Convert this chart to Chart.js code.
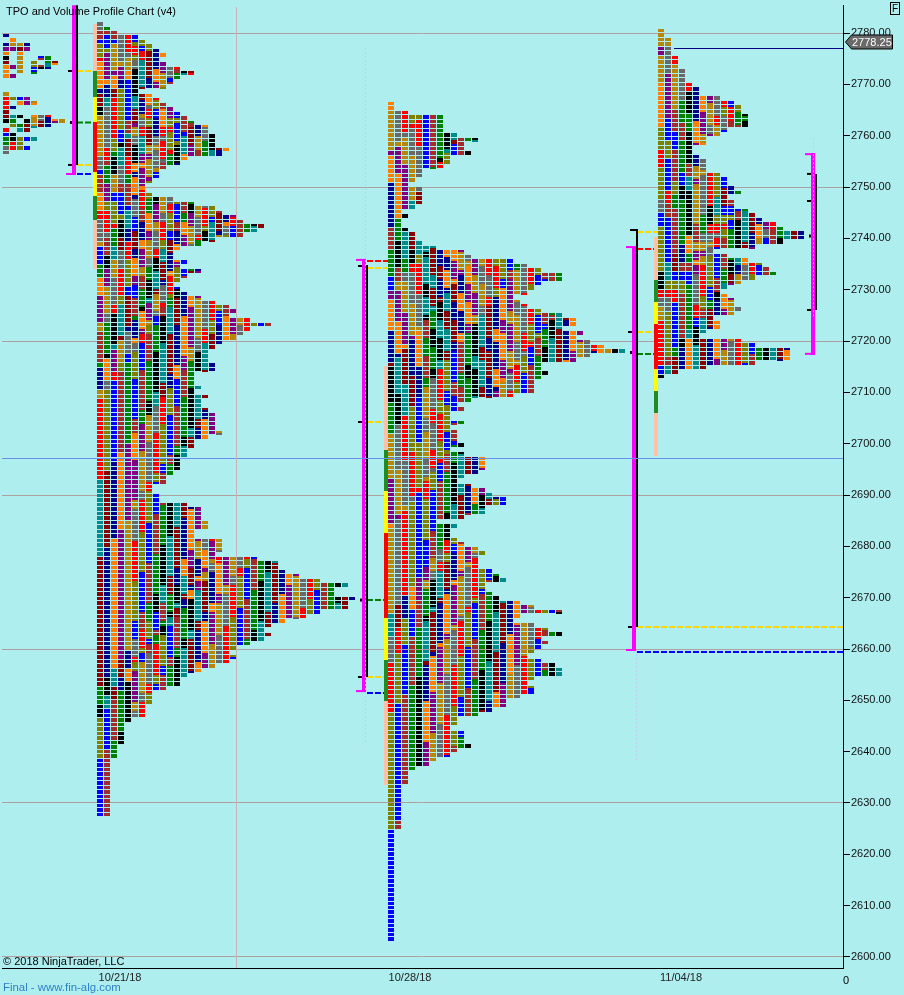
<!DOCTYPE html>
<html>
<head>
<meta charset="utf-8">
<title>TPO and Volume Profile Chart</title>
<script src="https://cdn.jsdelivr.net/npm/chart.js@4"></script>
<style>
  html, body { margin: 0; padding: 0; background: #afeeee; }
  canvas { display: block; }
</style>
</head>
<body>
<canvas id="chart" width="904" height="995"></canvas>
<script>
const priceTicks = [2600, 2610, 2620, 2630, 2640, 2650, 2660, 2670, 2680, 2690, 2700, 2710, 2720, 2730, 2740, 2750, 2760, 2770, 2780];
const gridPrices = [2600, 2630, 2660, 2690, 2720, 2750, 2780];
const dateLabels = ['10/21/18', '10/28/18', '11/04/18'];
const dateSlots = [120, 410, 681];

// TPO colour order, one letter after the other
const tpoColours = ['#ff0000', '#808000', '#0000ff', '#a52a2a', '#008000', '#000000', '#008b8b', '#8b0000', '#00008b', '#ff8000', '#800080', '#b8860b', '#696969'];

// row lengths of each profile, top row first
const profile0Rows = [2, 3, 5, 5, 5, 8, 9, 8, 6, 3, 1, 1, 0, 3, 5, 6, 3, 2, 8, 10, 8, 5, 3, 6, 4, 5, 2];
const profile1Rows = [1, 2, 3, 6, 7, 8, 9, 10, 9, 10, 12, 14, 12, 11, 10, 6, 8, 9, 10, 11, 12, 13, 14, 16, 16, 17, 17, 17, 19, 18, 13, 12, 10, 9, 9, 8, 7, 7, 8, 11, 14, 17, 18, 20, 21, 24, 23, 21, 17, 15, 12, 11, 11, 13, 12, 15, 13, 12, 11, 12, 13, 15, 17, 19, 20, 19, 22, 25, 22, 21, 20, 18, 17, 16, 16, 16, 17, 17, 14, 14, 14, 15, 14, 16, 15, 15, 16, 17, 17, 17, 17, 18, 16, 14, 14, 13, 13, 12, 12, 12, 11, 10, 10, 8, 8, 9, 9, 13, 15, 15, 15, 16, 16, 14, 14, 18, 18, 18, 17, 23, 26, 26, 27, 29, 32, 36, 34, 34, 37, 36, 36, 32, 30, 27, 25, 24, 25, 24, 22, 20, 19, 20, 19, 17, 15, 13, 12, 12, 10, 8, 8, 8, 7, 7, 7, 5, 4, 4, 4, 4, 4, 3, 3, 3, 2, 2, 2, 2, 2, 2, 2, 2, 2, 2, 2, 2, 2];
const profile2Rows = [1, 1, 3, 8, 8, 8, 8, 10, 13, 11, 11, 12, 9, 9, 8, 5, 5, 4, 3, 5, 5, 5, 5, 4, 2, 3, 2, 2, 3, 4, 4, 5, 7, 11, 12, 18, 20, 22, 25, 25, 22, 21, 20, 18, 19, 20, 22, 25, 27, 27, 25, 28, 27, 29, 31, 34, 29, 27, 22, 22, 23, 22, 21, 21, 21, 18, 12, 10, 11, 9, 9, 11, 9, 10, 10, 10, 11, 9, 11, 14, 14, 14, 13, 11, 10, 12, 14, 15, 17, 17, 14, 14, 11, 7, 10, 9, 9, 10, 11, 13, 14, 13, 13, 13, 15, 16, 17, 14, 14, 15, 16, 19, 21, 25, 19, 18, 21, 23, 25, 22, 23, 22, 21, 20, 22, 24, 25, 25, 21, 20, 21, 21, 19, 17, 17, 15, 13, 10, 10, 9, 11, 11, 11, 12, 10, 9, 7, 6, 4, 3, 3, 3, 2, 2, 2, 2, 2, 2, 2, 2, 2, 2, 1, 1, 1, 1, 1, 1, 1, 1, 1, 1, 1, 1, 1, 1, 1, 1, 1, 1, 1, 1, 1, 1, 1, 1, 1];
const profile3Rows = [1, 1, 2, 2, 2, 2, 3, 3, 3, 4, 4, 4, 5, 6, 6, 9, 11, 12, 12, 13, 13, 13, 10, 9, 7, 7, 5, 5, 6, 7, 7, 7, 9, 10, 10, 11, 12, 10, 11, 11, 13, 14, 15, 17, 18, 21, 21, 18, 14, 8, 10, 13, 15, 16, 17, 14, 12, 10, 9, 10, 11, 11, 12, 11, 8, 9, 9, 7, 6, 12, 14, 19, 19, 19, 14, 7, 3, 1];

// first letter of each row as [colour index, rows]
const profile0Letters = [[7, 4], [9, 1], [8, 1], [4, 1], [6, 1], [8, 6], [10, 1], [12, 3], [6, 2], [4, 1], [2, 1], [12, 1], [1, 1], [3, 2], [11, 1]];
const profile1Letters = [[12, 2], [3, 2], [2, 1], [1, 3], [0, 1], [9, 6], [8, 1], [7, 3], [5, 2], [11, 9], [12, 3], [2, 1], [3, 4], [9, 4], [0, 2], [12, 5], [11, 1], [2, 4], [4, 3], [9, 4], [10, 6], [11, 2], [3, 7], [4, 1], [8, 5], [11, 2], [0, 18], [6, 17], [7, 29], [4, 4], [5, 3], [1, 9], [2, 13]];
const profile2Letters = [[9, 2], [11, 9], [10, 1], [9, 6], [8, 10], [3, 5], [4, 6], [2, 3], [10, 2], [9, 7], [8, 7], [7, 1], [5, 8], [4, 7], [11, 10], [10, 10], [9, 1], [11, 19], [6, 5], [12, 6], [0, 11], [1, 26], [2, 25]];
const profile3Letters = [[11, 4], [10, 2], [11, 6], [9, 10], [1, 5], [0, 4], [1, 7], [12, 3], [2, 3], [1, 10], [5, 4], [0, 2], [12, 2], [11, 3], [0, 10], [2, 2], [5, 1]];

// value area levels of the composite bars
const profile0Bar = { top: 2785.4, low: 2752.34, blackLow: 2754.3, foot: 2752.53 };
const profile0Ticks = [2772.6, 2762.56, 2754.3];
const profile0Dashes = [2772.6, 2762.56, 2754.3, 2752.53];
const profile1Edges = [2781.75, 2772.6, 2767.53, 2762.66, 2752.92, 2748.25, 2743.57, 2734.03];
const profile2Edges = [2715.13, 2698.77, 2690.78, 2682.6, 2666.04, 2657.86, 2649.87, 2633.5];
const profile3Edges = [2740.26, 2731.88, 2727.6, 2723.31, 2714.55, 2710.26, 2705.97, 2697.6];
const profile2Ticks = [2734.61, 2704.22, 2669.54, 2654.54];
const profile2Dashes = [2735.58, 2734.22, 2704.22, 2669.54, 2654.54, 2651.43];
const profile3Ticks = [2741.62, 2721.75, 2717.76, 2664.28];
const profile3Dashes = [2741.23, 2737.92, 2721.75, 2717.47];
const weekTicks = [2752.55, 2747.27, 2740.45, 2726.04];
const lastPrice = 2778.25;
const openLine = 2776.98;
const hlinePrice = 2697.11;
const nakedLevels = [2664.29, 2659.42];

const ROW_STEP = 0.875;
const SLOT = 7;
const Y_MIN = 2597.857;
const Y_MAX = 2785.455;
const PANE_TOP = 5;
const PANE_BOTTOM = 968;
const PX_PER_POINT = (PANE_BOTTOM - PANE_TOP) / (Y_MAX - Y_MIN);

const GOLD = '#ffd700', DKGREEN = '#008000', RED = '#ff0000', BLUE = '#0000ff', MAGENTA = '#ff00ff';
const barColours = ['#ffc0a8', '#228b22', '#ffff00', '#ff0000', '#ffff00', '#228b22', '#ffc0a8'];

function cellImage(colour, h) {
  const c = document.createElement('canvas');
  c.width = 6;
  c.height = h;
  const g = c.getContext('2d');
  g.fillStyle = colour;
  g.fillRect(0, 0, 6, h);
  return c;
}

function expandLetters(runs) {
  const out = [];
  runs.forEach(r => { for (let i = 0; i < r[1]; i++) out.push(r[0]); });
  return out;
}

function letterAt(starts, row, col, stagger) {
  const r = Math.min(row + col * stagger, starts.length - 1);
  const shift = col > 4 ? Math.floor((row + col * 2) / 9) : 0;
  return (starts[r] + col + shift) % tpoColours.length;
}

// snap a row to whole screen pixels so every row keeps its one pixel gap
function rowTop(price) {
  return Math.round(PANE_TOP + (Y_MAX - price) * PX_PER_POINT - 2);
}
function pxToPrice(px) {
  return Y_MAX - (px - PANE_TOP) / PX_PER_POINT;
}

const tallCells = tpoColours.map(() => []);
const shortCells = tpoColours.map(() => []);
const thinCells = tpoColours.map(() => []);

function addProfile(x0, topPrice, rows, letters, stagger) {
  const starts = expandLetters(letters);
  rows.forEach((len, row) => {
    const t = rowTop(topPrice - row * ROW_STEP);
    const h = rowTop(topPrice - (row + 1) * ROW_STEP) - t - 1;
    for (let col = 0; col < len; col++) {
      const x = x0 + col * SLOT + 3;
      const a = letterAt(starts, row, col, stagger);
      const b = letterAt(starts, row + 1, col, stagger);
      if (a !== b && col > 4) {
        thinCells[a].push({ x, y: pxToPrice(t + 1) });
        thinCells[b].push({ x, y: pxToPrice(t + 3) });
      } else if (h >= 4) {
        tallCells[a].push({ x, y: pxToPrice(t + 2) });
      } else {
        shortCells[a].push({ x, y: pxToPrice(t + 1.5) });
      }
    }
  });
}

addProfile(-4, 2779.42, profile0Rows, profile0Letters, 1);
addProfile(97, 2781.75, profile1Rows, profile1Letters, 2);
addProfile(388, 2766.17, profile2Rows, profile2Letters, 2);
addProfile(658, 2780.39, profile3Rows, profile3Letters, 2);

const datasets = [];

function seg(x1, p1, x2, p2, colour, width, dash) {
  datasets.push({
    type: 'line',
    data: [{ x: x1, y: p1 }, { x: x2, y: p2 }],
    borderColor: colour,
    borderWidth: width,
    borderDash: dash || [],
    pointRadius: 0,
    borderCapStyle: 'butt',
    clip: false,
    order: 1
  });
}

tpoColours.forEach((colour, i) => {
  datasets.push({ type: 'scatter', data: tallCells[i], pointStyle: cellImage(colour, 4), order: 3 });
  datasets.push({ type: 'scatter', data: shortCells[i], pointStyle: cellImage(colour, 3), order: 3 });
  datasets.push({ type: 'scatter', data: thinCells[i], pointStyle: cellImage(colour, 2), order: 3 });
});

// vertical rule and horizontal line
seg(236.5, 2785, 236.5, 2597.9, '#c4b4b4', 1);
seg(2, hlinePrice, 843, hlinePrice, '#6a90ea', 1);

// faint trails next to the composite bars
seg(365.5, 2777.08, 365.5, 2641.3, '#c4cdf9', 1, [2, 2]);
seg(636.5, 2659.8, 636.5, 2638, '#c4cdf9', 1, [2, 2]);
seg(813.5, 2759.5, 813.5, 2724.5, '#c4cdf9', 1, [2, 2]);
seg(79, 2775.5, 79, 2771, '#c4cdf9', 1, [2, 2]);

function profileBar(x, edges) {
  barColours.forEach((c, i) => seg(x, edges[i], x, edges[i + 1], c, 4));
}
profileBar(95, profile1Edges);
profileBar(386, profile2Edges);
profileBar(656, profile3Edges);

// first composite
seg(74, profile0Bar.top, 74, profile0Bar.low, MAGENTA, 4);
seg(77, profile0Bar.top, 77, profile0Bar.blackLow, '#000000', 2);
seg(66, profile0Bar.foot, 76, profile0Bar.foot, MAGENTA, 2);
seg(68, profile0Ticks[0], 72, profile0Ticks[0], '#000000', 2);
seg(70, profile0Ticks[1], 76, profile0Ticks[1], '#000000', 3);
seg(68, profile0Ticks[2], 72, profile0Ticks[2], '#000000', 2);
[GOLD, DKGREEN, GOLD, BLUE].forEach((c, i) => seg(77, profile0Dashes[i], 97, profile0Dashes[i], c, 2, [6, 2]));

// second composite
seg(364, 2735.97, 364, 2651.62, MAGENTA, 4);
seg(367, 2734.8, 367, 2654.54, '#000000', 2);
seg(356, 2735.8, 366, 2735.8, MAGENTA, 2);
seg(356, 2651.8, 366, 2651.8, MAGENTA, 2);
seg(358, profile2Ticks[0], 362, profile2Ticks[0], '#000000', 2);
seg(358, profile2Ticks[1], 362, profile2Ticks[1], '#000000', 2);
seg(360, profile2Ticks[2], 368, profile2Ticks[2], '#000000', 3);
seg(358, profile2Ticks[3], 362, profile2Ticks[3], '#000000', 2);
[RED, GOLD, GOLD, DKGREEN, GOLD, BLUE].forEach((c, i) => seg(367, profile2Dashes[i], 388, profile2Dashes[i], c, 2, [6, 2]));

// third composite
seg(634, 2738.5, 634, 2659.61, MAGENTA, 4);
seg(637, profile3Ticks[0], 637, profile3Ticks[3], '#000000', 2);
seg(626, 2738.3, 636, 2738.3, MAGENTA, 2);
seg(626, 2659.8, 636, 2659.8, MAGENTA, 2);
seg(630, profile3Ticks[0], 638, profile3Ticks[0], '#000000', 2);
seg(628, profile3Ticks[1], 632, profile3Ticks[1], '#000000', 2);
seg(630, profile3Ticks[2], 636, profile3Ticks[2], '#000000', 3);
seg(628, profile3Ticks[3], 632, profile3Ticks[3], '#000000', 2);
[GOLD, RED, GOLD, DKGREEN].forEach((c, i) => seg(637, profile3Dashes[i], 658, profile3Dashes[i], c, 2, [6, 2]));
seg(637, nakedLevels[0], 843, nakedLevels[0], GOLD, 2, [6, 2]);
seg(637, nakedLevels[1], 843, nakedLevels[1], BLUE, 2, [6, 2]);
seg(674, openLine, 843, openLine, '#000080', 1);

// last week composite
seg(813, 2756.62, 813, 2717.27, MAGENTA, 4);
seg(816, weekTicks[0], 816, weekTicks[3], '#000000', 2);
seg(805, 2756.4, 815, 2756.4, MAGENTA, 2);
seg(805, 2717.5, 815, 2717.5, MAGENTA, 2);
seg(807, weekTicks[0], 811, weekTicks[0], '#000000', 2);
seg(807, weekTicks[1], 811, weekTicks[1], '#000000', 2);
seg(809, weekTicks[2], 817, weekTicks[2], '#000000', 3);
seg(807, weekTicks[3], 811, weekTicks[3], '#000000', 2);

const annotations = {
  id: 'annotations',
  beforeDatasetsDraw(chart) {
    chart.ctx.imageSmoothingEnabled = false;
  },
  afterDraw(chart) {
    const ctx = chart.ctx;
    const y = chart.scales.y.getPixelForValue(lastPrice);
    ctx.save();
    ctx.font = '11px "Liberation Sans"';
    ctx.textBaseline = 'middle';
    ctx.textAlign = 'left';
    ctx.fillStyle = '#000000';
    ctx.fillText('TPO and Volume Profile Chart (v4)', 6, 12);
    ctx.fillText('\u00a9 2018 NinjaTrader, LLC', 3, 962);
    ctx.fillText('0', 843, 981);
    ctx.fillStyle = '#2f80c8';
    ctx.font = '11.4px "Liberation Sans"';
    ctx.fillText('Final - www.fin-alg.com', 3, 988);

    ctx.fillStyle = '#696969';
    ctx.strokeStyle = '#000000';
    ctx.lineWidth = 1;
    ctx.beginPath();
    ctx.moveTo(845.5, y);
    ctx.lineTo(851.5, y - 7);
    ctx.lineTo(892.5, y - 7);
    ctx.lineTo(892.5, y + 7);
    ctx.lineTo(851.5, y + 7);
    ctx.closePath();
    ctx.fill();
    ctx.stroke();
    ctx.fillStyle = '#ffffff';
    ctx.font = '11px "Liberation Sans"';
    ctx.fillText('2778.25', 852, y + 0.5);

    ctx.strokeStyle = '#000000';
    ctx.strokeRect(890.5, 2.5, 9, 12);
    ctx.fillStyle = '#000000';
    ctx.font = '10px "Liberation Sans"';
    ctx.fillText('F', 892, 9);
    ctx.restore();
  }
};

function noScalePadding(s) {
  s.paddingLeft = 0;
  s.paddingRight = 0;
  s.paddingTop = 0;
  s.paddingBottom = 0;
}

new Chart(document.getElementById('chart'), {
  data: { datasets },
  plugins: [annotations],
  options: {
    responsive: false,
    animation: false,
    parsing: false,
    normalized: true,
    layout: { autoPadding: false, padding: { top: PANE_TOP, left: 2, right: 0, bottom: 0 } },
    plugins: { legend: { display: false }, tooltip: { enabled: false } },
    scales: {
      x: {
        type: 'linear',
        min: 2,
        max: 843,
        afterBuildTicks: s => { s.ticks = dateSlots.map(v => ({ value: v })); },
        afterFit: s => { s.height = 27; noScalePadding(s); },
        grid: { drawOnChartArea: false, drawTicks: false },
        border: { color: '#000000', width: 1 },
        ticks: {
          autoSkip: false,
          maxRotation: 0,
          padding: 3,
          color: '#222222',
          font: { family: 'Liberation Sans', size: 11 },
          callback: v => dateLabels[dateSlots.indexOf(v)]
        }
      },
      y: {
        type: 'linear',
        position: 'right',
        min: Y_MIN,
        max: Y_MAX,
        afterBuildTicks: s => { s.ticks = priceTicks.map(v => ({ value: v })); },
        afterFit: s => { s.width = 61; noScalePadding(s); },
        grid: {
          color: c => gridPrices.includes(c.tick.value) ? '#b0a0a0' : 'rgba(0,0,0,0)',
          tickColor: '#000000',
          tickLength: 7
        },
        border: { color: '#000000', width: 1 },
        ticks: {
          autoSkip: false,
          padding: 1,
          color: '#111111',
          font: { family: 'Liberation Sans', size: 11 },
          callback: v => v.toFixed(2)
        }
      }
    }
  }
});
</script>
</body>
</html>
